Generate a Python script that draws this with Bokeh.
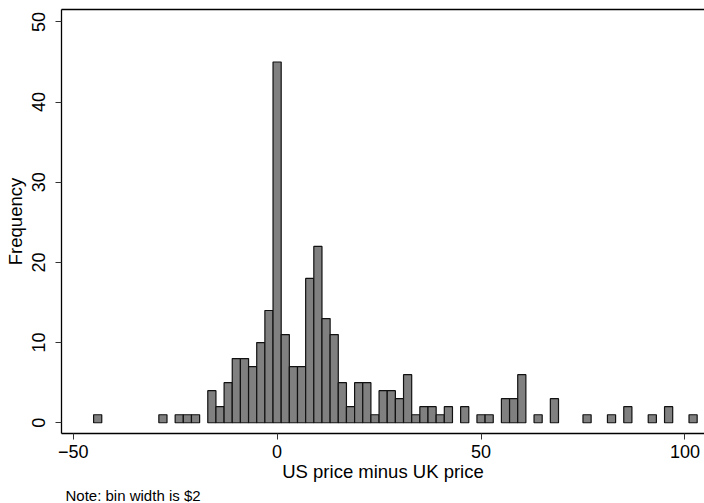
from bokeh.plotting import figure
from bokeh.models import Range1d, FixedTicker, LinearAxis, Title
from bokeh.embed import file_html
from bokeh.resources import INLINE

# Histogram of US price minus UK price, bin width 2 (bin centres)
bin_centers = [-44, -28, -24, -22, -20, -16, -14, -12, -10, -8, -6, -4, -2,
               0, 2, 4, 6, 8, 10, 12, 14, 16, 18, 20, 22, 24, 26, 28, 30, 32,
               34, 36, 38, 40, 42, 46, 50, 52, 56, 58, 60, 64, 68, 76, 82, 86,
               92, 96, 102]
counts = [1, 1, 1, 1, 1, 4, 2, 5, 8, 8, 7, 10, 14,
          45, 11, 7, 7, 18, 22, 13, 11, 5, 2, 5, 5, 1, 4, 4, 3, 6,
          1, 2, 2, 1, 2, 2, 1, 1, 3, 3, 6, 1, 3, 1, 1, 2,
          1, 2, 1]
bin_width = 2
x_ticks = [-50, 0, 50, 100]
y_ticks = [0, 10, 20, 30, 40, 50]
x_title = "US price minus UK price"
y_title = "Frequency"
note = "Note: bin width is $2"

FONT = "Liberation Sans"
FS_TICK = "18px"
FS_TITLE = "18.5px"

p = figure(width=704, height=503, output_backend="svg", toolbar_location=None,
           x_range=Range1d(-52.87, 104.8), y_range=Range1d(-1.34, 51.55),
           min_border_left=61, min_border_right=0, min_border_top=9,
           min_border_bottom=70)
p.outline_line_color = None
p.xgrid.visible = False
p.ygrid.visible = False
p.background_fill_color = "white"
p.border_fill_color = "white"

p.vbar(x=bin_centers, top=counts, bottom=0, width=bin_width,
       fill_color="#808080", line_color="#111111", line_width=1.2)

# x axis
xa = p.xaxis[0]
xa.ticker = FixedTicker(ticks=x_ticks)
xa.major_label_overrides = {-50: "\u221250"}
xa.axis_label = x_title
for ax in (p.xaxis[0], p.yaxis[0]):
    ax.axis_line_color = "black"
    ax.axis_line_width = 1.3
    ax.major_tick_line_color = "#333333"
    ax.major_tick_line_width = 1
    ax.major_tick_out = 6
    ax.major_tick_in = 0
    ax.minor_tick_out = 0
    ax.minor_tick_in = 0
    ax.major_label_text_font = FONT
    ax.major_label_text_font_size = FS_TICK
    ax.major_label_text_color = "black"
    ax.axis_label_text_font = FONT
    ax.axis_label_text_font_size = FS_TITLE
    ax.axis_label_text_font_style = "normal"
    ax.axis_label_text_color = "black"
xa.major_label_standoff = 5
xa.axis_label_standoff = 0

ya = p.yaxis[0]
ya.ticker = FixedTicker(ticks=y_ticks)
ya.axis_label = y_title
ya.major_label_orientation = "vertical"
ya.major_label_standoff = 10
ya.axis_label_standoff = 4

# top frame line
top = LinearAxis(ticker=FixedTicker(ticks=[]), major_label_text_font_size="0px",
                 major_tick_out=0, major_tick_in=0, minor_tick_out=0,
                 minor_tick_in=0, major_label_standoff=0,
                 axis_line_color="black", axis_line_width=1.3)
p.add_layout(top, "above")

p.add_layout(Title(text=note, align="left", text_font=FONT,
                   text_font_size="15px", text_font_style="normal",
                   text_color="black", standoff=0, offset=4), "below")

open("out.html", "w").write(file_html(p, INLINE))
